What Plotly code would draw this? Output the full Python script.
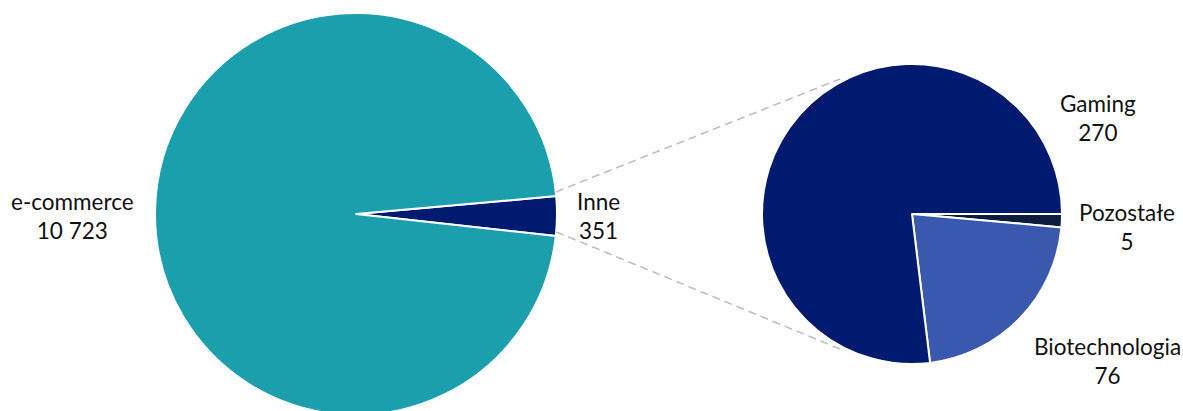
import math
import plotly.graph_objects as go

# data
main_labels = ["Inne", "e-commerce"]
main_values = [351, 10723]
sub_labels = ["Pozostałe", "Biotechnologia", "Gaming"]
sub_values = [5, 76, 270]

main_colors = ["#001A70", "#1B9FAD"]
sub_colors = ["#0C1C3E", "#3A58AE", "#001A70"]

W, H = 1183, 415
FONT = "Lato"

def fmt(v):
    return f"{v:,}".replace(",", " ")

# geometry (pixels, centres given from the top, converted to from-bottom)
c1x, c1t, r1 = 356, 214, 201
c2x, c2t, r2 = 912, 214, 150
c1y = H - c1t
c2y = H - c2t

inne_frac = main_values[0] / sum(main_values)
inne_deg = inne_frac * 360
tilt = 0.6
rot1 = 90 - inne_deg / 2 + tilt

fig = go.Figure()
fig.add_trace(go.Pie(
    labels=main_labels, values=main_values, sort=False, direction="clockwise",
    rotation=rot1, textinfo="none", hoverinfo="label+value",
    marker=dict(colors=main_colors, line=dict(color="white", width=2)),
    domain=dict(x=[(c1x - r1) / W, (c1x + r1) / W], y=[(c1y - r1) / H, (c1y + r1) / H]),
    showlegend=False,
))
fig.add_trace(go.Pie(
    labels=sub_labels, values=sub_values, sort=False, direction="clockwise",
    rotation=90, textinfo="none", hoverinfo="label+value",
    marker=dict(colors=sub_colors, line=dict(color="white", width=2)),
    domain=dict(x=[(c2x - r2) / W, (c2x + r2) / W], y=[(c2y - r2) / H, (c2y + r2) / H]),
    showlegend=False,
))

# connector lines
a_top = math.radians(inne_deg / 2 + tilt)
a_bot = math.radians(-inne_deg / 2 + tilt)
p1 = (c1x + r1 * math.cos(a_top), c1y + r1 * math.sin(a_top))
p2 = (c1x + r1 * math.cos(a_bot), c1y + r1 * math.sin(a_bot))
t_top = math.radians(118)
t_bot = math.radians(-118)
q1 = (c2x + (r2 + 3) * math.cos(t_top), c2y + (r2 + 3) * math.sin(t_top))
q2 = (c2x + (r2 + 3) * math.cos(t_bot), c2y + (r2 + 3) * math.sin(t_bot))
for a, b in [(p1, q1), (p2, q2)]:
    fig.add_shape(type="line", xref="paper", yref="paper",
                  x0=a[0] / W, y0=a[1] / H, x1=b[0] / W, y1=b[1] / H,
                  line=dict(color="#BFBFBF", width=1.6, dash="8px,5px"))

# labels (positions from the top)
label_pos = {
    "e-commerce": (72, 216),
    "Inne": (598, 216),
    "Gaming": (1098, 118),
    "Pozostałe": (1127, 227),
    "Biotechnologia": (1107, 361),
}
for labs, vals in [(main_labels, main_values), (sub_labels, sub_values)]:
    for lab, v in zip(labs, vals):
        x, y = label_pos[lab]
        fig.add_annotation(x=x / W, y=1 - y / H, xref="paper", yref="paper",
                           text=f"{lab}<br>{fmt(v)}", showarrow=False,
                           xanchor="center", yanchor="middle", align="center",
                           font=dict(family=FONT, size=22.5, color="#111111"))

fig.update_layout(width=W, height=H, margin=dict(l=0, r=0, t=0, b=0),
                  paper_bgcolor="white", plot_bgcolor="white")
fig.write_html("out.html", config={"displayModeBar": False},
               post_script="document.body.style.margin='0';document.body.style.overflow='hidden';")
